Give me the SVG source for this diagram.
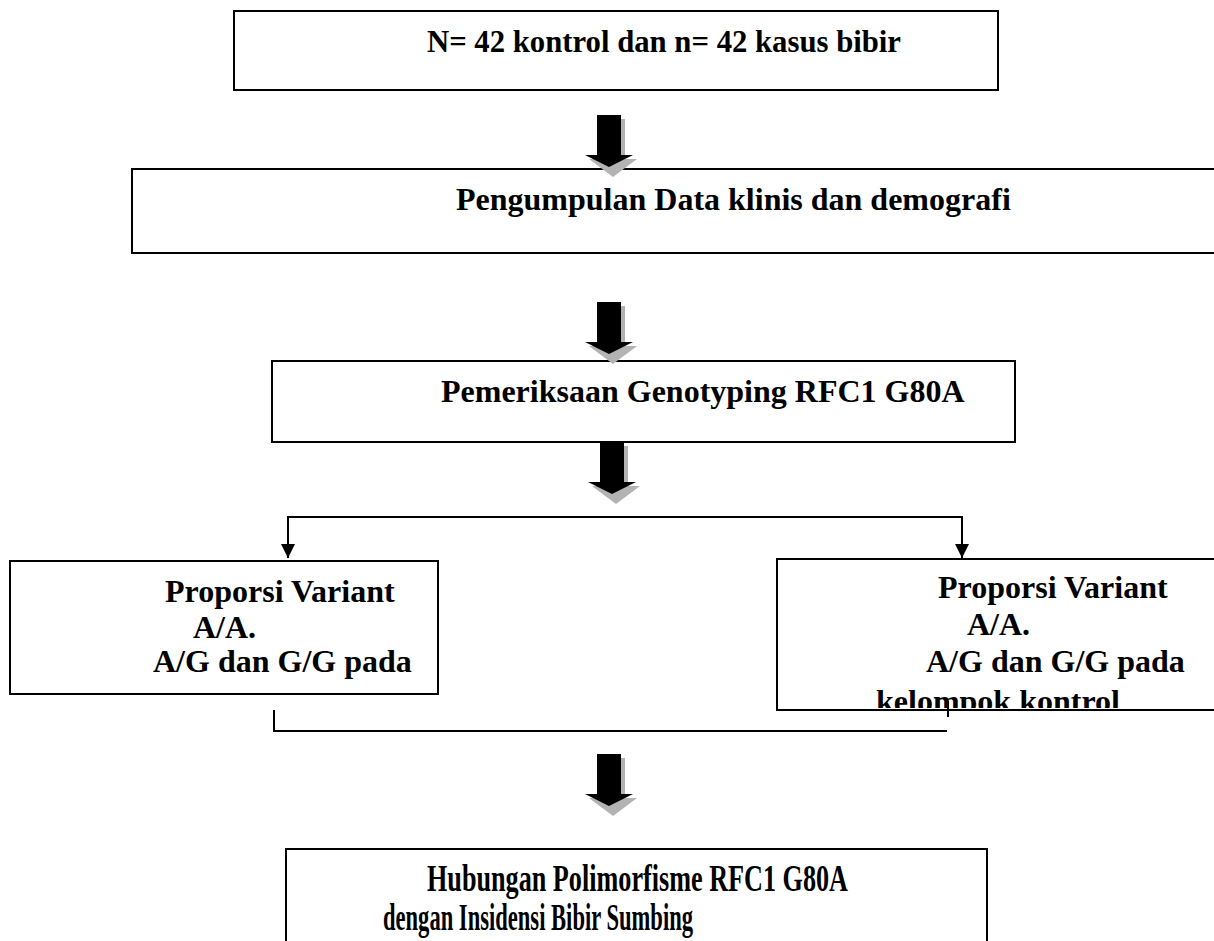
<svg xmlns="http://www.w3.org/2000/svg" width="1214" height="941" viewBox="0 0 1214 941">
<style>
.box{fill:#fff;stroke:#000;stroke-width:2}
.t{font-family:"Liberation Serif","Times New Roman",serif;font-weight:bold;font-size:32px;fill:#000}
.tb{font-size:37px}
.ln{fill:none;stroke:#000;stroke-width:2}
.sh{fill:#b3b3b3}
</style>
<defs>
<symbol id="barrow" overflow="visible">
<path class="sh" d="M4,4 H28 V44 H40 L16,62 L-8,44 H4 Z"/>
<path fill="#000" d="M0,0 H24 V40 H36 L12,52 L-12,40 H0 Z"/>
</symbol>
<clipPath id="clipR"><rect x="777" y="559" width="440" height="149"/></clipPath>
</defs>
<g id="n1">
<rect class="box" x="234" y="11" width="764" height="79"/>
<text class="t" x="427" y="52" textLength="474" lengthAdjust="spacingAndGlyphs">N= 42 kontrol dan n= 42 kasus bibir</text>
</g>
<g id="n2">
<rect class="box" x="132" y="169" width="1100" height="84"/>
<text class="t" x="456" y="210">Pengumpulan Data klinis dan demografi</text>
</g>
<g id="n3">
<rect class="box" x="272" y="361" width="743" height="81"/>
<text class="t" x="441" y="402">Pemeriksaan Genotyping RFC1 G80A</text>
</g>
<g id="n4">
<rect class="box" x="10" y="561" width="428" height="133"/>
<text class="t" x="165" y="602">Proporsi Variant</text>
<text class="t" x="193" y="638">A/A.</text>
<text class="t" x="153" y="672">A/G dan G/G pada</text>
</g>
<g id="n5">
<rect class="box" x="777" y="559" width="450" height="151"/>
<text class="t" x="938" y="598">Proporsi Variant</text>
<text class="t" x="967" y="635">A/A.</text>
<text class="t" x="926" y="672">A/G dan G/G pada</text>
<text class="t" x="876" y="712" clip-path="url(#clipR)">kelompok kontrol</text>
</g>
<g id="n6">
<rect class="box" x="286" y="849" width="701" height="120"/>
<text class="t tb" x="427" y="891" textLength="421" lengthAdjust="spacingAndGlyphs">Hubungan Polimorfisme RFC1 G80A</text>
<text class="t tb" x="383" y="930" textLength="310" lengthAdjust="spacingAndGlyphs">dengan Insidensi Bibir Sumbing</text>
</g>
<g id="connectors">
<use href="#barrow" x="597" y="115"/>
<use href="#barrow" x="597" y="302"/>
<use href="#barrow" x="600" y="442"/>
<use href="#barrow" x="597" y="754"/>
<path class="ln" d="M288,558 V517 H962 V558"/>
<path d="M281,544 L295,544 L288,558 Z" fill="#000"/>
<path d="M955,544 L969,544 L962,558 Z" fill="#000"/>
<path class="ln" d="M274,710 V731 H947"/>
<path class="ln" d="M948,701 V717"/>
</g>
</svg>
